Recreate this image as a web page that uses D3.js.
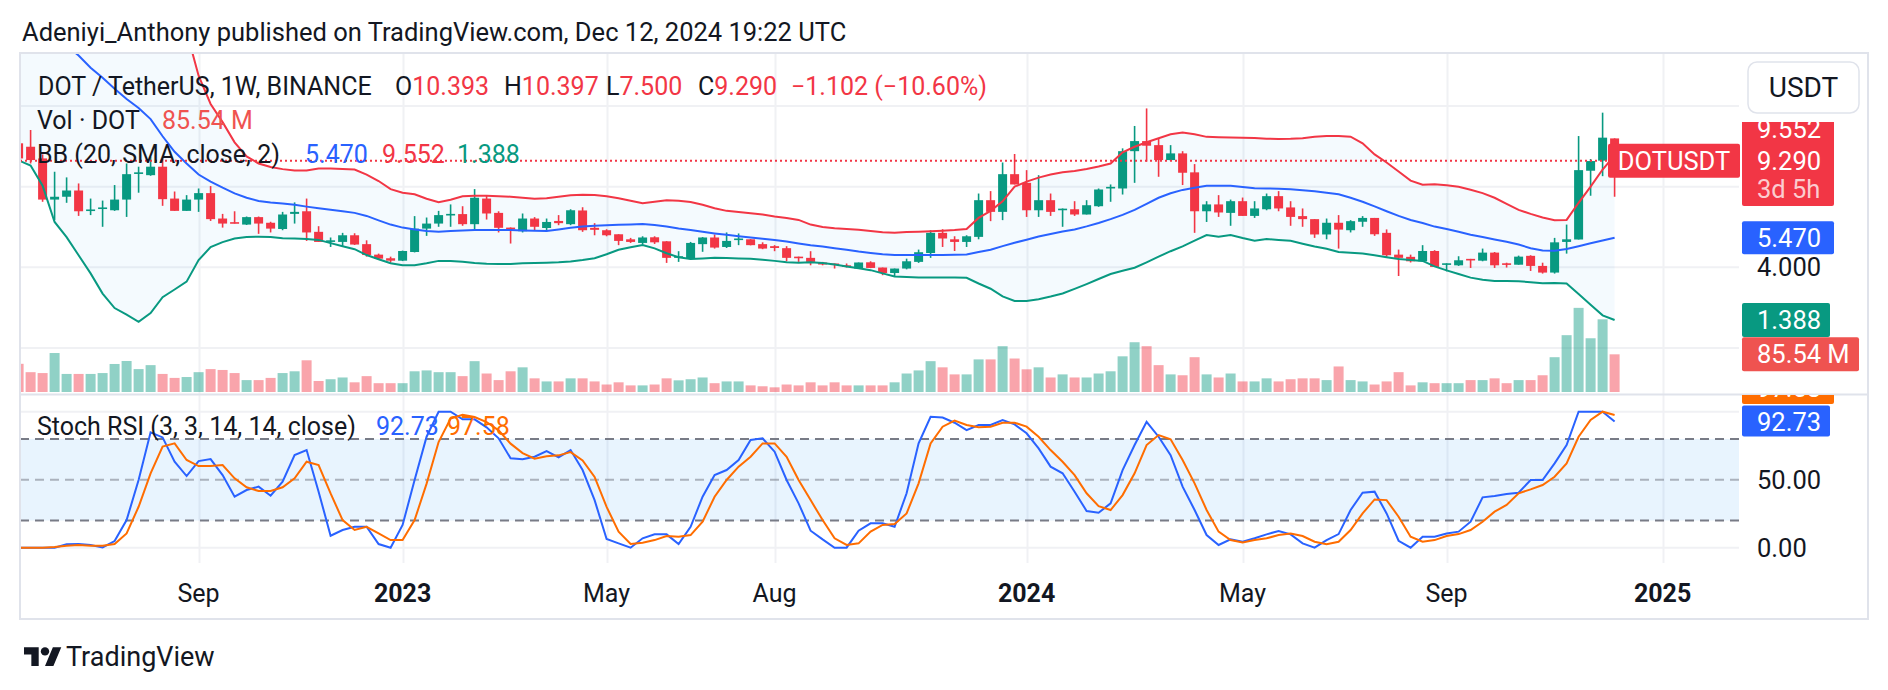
<!DOCTYPE html>
<html>
<head>
<meta charset="utf-8">
<script src="https://cdn.jsdelivr.net/npm/d3@7"></script>
<style>
  body { margin: 0; background: #ffffff; }
  svg text { font-family: Roboto, "Noto Sans", sans-serif; }
</style>
</head>
<body>
<div id="chart"></div>
<script>

// weekly bars, Monday 2022-05-23 .. Monday 2024-12-09
var opens = [10.15, 9.98, 9.40, 7.36, 7.50, 7.81, 6.80, 6.92, 6.83, 7.36, 8.64, 8.57, 8.99, 7.41, 6.80, 7.36, 7.68, 6.42, 6.24, 6.12, 6.49, 6.21, 5.90, 6.65, 6.78, 5.76, 5.26, 5.26, 5.59, 5.15, 4.63, 4.45,
    4.33, 4.76, 5.92, 6.17, 6.60, 6.64, 6.14, 7.41, 6.70, 5.97, 5.79, 6.42, 5.95, 6.30, 6.14, 6.82, 5.96, 5.84, 5.64, 5.39, 5.21, 5.49, 5.29, 4.50, 4.43, 5.15, 5.48, 5.01, 5.36, 5.39, 5.15, 5.05, 4.95, 4.53, 4.47, 4.24, 4.19, 4.10, 3.94, 4.25, 3.99, 3.72, 3.94, 4.27, 4.71, 5.71, 5.39, 5.26, 5.51, 7.33, 6.75, 8.62,
    8.19, 6.83, 7.33, 6.85, 6.88, 6.62, 7.03, 7.91, 7.91, 9.76, 10.26, 10.06, 9.32, 9.65, 8.71, 6.78, 7.12, 6.70, 7.28, 6.55, 6.88, 7.53, 6.97, 6.54, 6.39, 5.63, 6.21, 5.84, 6.26, 6.45, 5.71, 4.63, 4.52, 4.30, 4.81, 4.13, 4.10, 4.42, 4.33, 4.73, 4.20, 4.13, 4.57, 4.07, 3.74, 5.26, 5.38, 8.79, 9.29, 10.393];
var highs = [10.35, 10.81, 9.60, 8.74, 8.46, 8.16, 7.41, 7.31, 8.08, 9.15, 8.99, 9.48, 9.40, 7.76, 7.58, 7.91, 8.03, 6.65, 6.78, 6.52, 6.52, 6.26, 6.75, 7.22, 7.41, 6.04, 5.48, 5.71, 5.69, 5.34, 4.68, 4.53,
    4.83, 6.54, 6.47, 6.80, 7.12, 7.03, 7.88, 7.58, 6.78, 5.98, 6.67, 6.49, 6.42, 6.59, 6.88, 6.98, 6.19, 5.89, 5.64, 5.46, 5.54, 5.54, 5.30, 4.80, 5.26, 5.50, 5.63, 5.73, 5.68, 5.40, 5.24, 5.10, 5.05, 4.53, 4.80, 4.27, 4.19, 4.19, 4.24, 4.30, 3.99, 3.94, 4.43, 4.88, 5.84, 5.89, 5.54, 5.59, 7.66, 7.78, 9.20, 9.62,
    8.82, 8.57, 7.66, 6.92, 7.28, 7.33, 7.91, 8.11, 9.90, 11.01, 11.88, 10.39, 10.06, 9.76, 9.12, 7.28, 7.58, 7.36, 7.46, 7.28, 7.66, 7.78, 7.28, 6.92, 6.39, 6.42, 6.59, 6.34, 6.54, 6.45, 5.88, 4.88, 4.63, 5.10, 4.85, 4.20, 4.55, 4.42, 4.93, 4.76, 4.23, 4.58, 4.60, 4.23, 5.46, 6.12, 10.51, 9.37, 11.67, 10.397];
var lows = [9.30, 9.15, 7.25, 6.34, 7.20, 6.55, 6.59, 6.01, 6.80, 6.50, 7.70, 8.54, 7.05, 6.80, 6.80, 6.75, 6.30, 5.97, 6.17, 6.10, 5.66, 5.73, 5.84, 6.17, 5.31, 5.26, 5.01, 5.06, 5.11, 4.53, 4.37, 4.23,
    4.31, 4.74, 5.56, 6.01, 6.01, 6.06, 5.84, 6.37, 5.73, 5.18, 5.73, 5.84, 5.79, 6.09, 6.09, 5.76, 5.59, 5.54, 5.10, 5.21, 5.15, 5.16, 4.22, 4.27, 4.38, 4.77, 4.93, 4.96, 5.10, 5.09, 4.90, 4.80, 4.30, 4.27, 4.10, 4.10, 3.94, 3.99, 3.92, 3.96, 3.61, 3.52, 3.90, 4.22, 4.47, 5.01, 4.81, 5.01, 5.39, 6.29, 6.34, 8.11,
    6.50, 6.50, 6.55, 6.01, 6.55, 6.62, 7.00, 7.25, 7.61, 8.19, 9.24, 8.49, 9.29, 8.08, 5.71, 6.25, 6.50, 6.06, 6.55, 6.45, 6.83, 6.78, 6.06, 6.01, 5.46, 5.39, 4.93, 5.73, 6.01, 5.56, 4.52, 3.57, 4.24, 4.30, 4.02, 3.80, 4.07, 3.97, 4.30, 3.97, 3.99, 4.13, 3.82, 3.69, 3.69, 4.68, 5.38, 7.55, 8.52, 7.500];
var closes = [9.40, 9.32, 7.36, 7.50, 7.81, 6.78, 6.87, 6.97, 7.36, 8.62, 8.71, 8.99, 7.38, 6.80, 7.36, 7.68, 6.39, 6.17, 6.19, 6.49, 6.17, 5.92, 6.62, 6.75, 5.73, 5.26, 5.34, 5.59, 5.13, 4.61, 4.43, 4.33,
    4.81, 5.92, 6.17, 6.59, 6.65, 6.14, 7.45, 6.67, 5.96, 5.91, 6.42, 6.01, 6.25, 6.19, 6.83, 5.84, 5.86, 5.59, 5.31, 5.26, 5.48, 5.24, 4.47, 4.55, 5.21, 5.48, 4.98, 5.31, 5.43, 5.10, 4.93, 4.96, 4.47, 4.47, 4.27, 4.14, 4.12, 4.02, 4.24, 3.97, 3.72, 3.94, 4.30, 4.75, 5.71, 5.43, 5.26, 5.54, 7.33, 6.75, 8.62, 8.11,
    6.83, 7.33, 6.75, 6.91, 6.62, 7.08, 7.86, 7.99, 9.76, 10.26, 10.03, 9.32, 9.65, 8.69, 6.78, 7.12, 6.72, 7.28, 6.55, 6.92, 7.53, 6.92, 6.50, 6.39, 5.63, 6.21, 5.87, 6.29, 6.45, 5.64, 4.60, 4.47, 4.30, 4.81, 4.02, 4.20, 4.35, 4.35, 4.73, 4.10, 4.13, 4.53, 4.07, 3.74, 5.24, 5.39, 8.82, 9.27, 10.43, 9.290];
// volume, millions of DOT
var volumes = [64, 45, 43, 88.5, 41, 41, 41, 43, 63.6, 70.4, 52, 61, 41, 32, 34, 45, 52, 50, 43, 27, 27, 32, 43, 47, 72, 25, 29, 33, 22, 36, 20, 20,
    20, 47, 49, 45, 45, 36, 70, 42, 27, 47, 56, 31, 24, 24, 31, 31, 24, 17, 22, 15, 15, 17, 31, 26.5, 29, 33, 20, 24, 24, 15, 13, 10.6, 17, 15, 22, 15, 22, 15, 15, 15, 15, 22, 42, 49, 70, 56, 40, 40, 74, 74, 104, 76,
    51.5, 56, 33, 40, 33, 33, 42, 47, 81, 113, 104, 61, 40, 38, 79, 40, 33, 42, 24, 24, 31, 24, 29, 31, 31, 27, 58, 27, 24, 17, 24, 45, 15, 22, 20, 20, 20, 27, 27, 31, 20, 27, 27, 38, 79, 129, 191, 122, 165, 85.54];

// Bollinger Bands (20, SMA, close, 2)
var bbUpper = [25.1, 24.4, 24.3, 24.9, 24.5, 24.4, 24.1, 24.1, 23.7, 23.0, 22.5, 21.0, 18.5, 16.6, 15.7, 13.5, 12.1, 11.2, 10.2, 9.5, 9.15, 8.98, 8.87, 8.8, 8.8, 8.9, 8.9, 8.88, 8.85, 8.6, 8.28, 7.88,
    7.7, 7.62, 7.4, 7.23, 7.35, 7.52, 7.55, 7.55, 7.53, 7.5, 7.45, 7.4, 7.42, 7.5, 7.58, 7.6, 7.59, 7.52, 7.43, 7.3, 7.18, 7.25, 7.33, 7.3, 7.24, 7.1, 6.93, 6.8, 6.74, 6.68, 6.62, 6.52, 6.45, 6.35, 6.12, 6.0, 5.94, 5.9, 5.86, 5.8, 5.74, 5.72, 5.75, 5.77, 5.79, 5.82, 5.85, 5.9, 6.45, 6.8, 7.27, 8.0,
    8.25, 8.45, 8.6, 8.72, 8.78, 8.88, 9.0, 9.15, 9.7, 9.98, 10.2, 10.4, 10.6, 10.68, 10.6, 10.47, 10.45, 10.44, 10.43, 10.41, 10.38, 10.36, 10.37, 10.4, 10.48, 10.51, 10.51, 10.48, 10.15, 9.6, 9.2, 8.75, 8.3, 8.1, 8.12, 8.07, 8.0, 7.85, 7.68, 7.45, 7.15, 6.85, 6.65, 6.47, 6.34, 6.35, 7.2, 8.0, 8.85, 9.552];
var bbBasis = [17.2, 16.7, 16.2, 15.6, 15.0, 14.5, 13.9, 13.4, 12.85, 12.35, 11.9, 11.35, 10.5, 9.73, 9.15, 8.6, 8.25, 7.95, 7.67, 7.45, 7.29, 7.22, 7.17, 7.1, 7.01, 6.93, 6.86, 6.78, 6.7, 6.55, 6.33, 6.12,
    5.97, 5.88, 5.8, 5.77, 5.8, 5.83, 5.85, 5.85, 5.85, 5.85, 5.83, 5.82, 5.8, 5.88, 5.96, 6.03, 6.06, 6.09, 6.11, 6.13, 6.15, 6.1, 6.03, 5.93, 5.85, 5.76, 5.68, 5.61, 5.54, 5.48, 5.42, 5.36, 5.28, 5.18, 5.09, 5.03, 4.95, 4.87, 4.78, 4.71, 4.65, 4.61, 4.61, 4.61, 4.61, 4.61, 4.62, 4.64, 4.76, 4.87, 5.05, 5.22,
    5.37, 5.53, 5.65, 5.78, 5.88, 6.03, 6.2, 6.39, 6.6, 6.85, 7.15, 7.45, 7.67, 7.84, 7.95, 8.04, 8.05, 8.05, 7.98, 7.92, 7.91, 7.9, 7.87, 7.82, 7.77, 7.7, 7.62, 7.45, 7.25, 7.02, 6.78, 6.55, 6.35, 6.2, 6.02, 5.9, 5.76, 5.62, 5.5, 5.38, 5.27, 5.13, 4.95, 4.84, 4.82, 4.91, 5.05, 5.19, 5.33, 5.47];
var bbLower = [9.3, 9.05, 8.05, 6.25, 5.5, 4.6, 3.7, 2.7, 1.98, 1.65, 1.3, 1.73, 2.52, 2.9, 3.29, 4.36, 5.0, 5.25, 5.43, 5.5, 5.52, 5.5, 5.44, 5.43, 5.41, 5.36, 5.2, 5.05, 4.9, 4.61, 4.4, 4.2,
    4.1, 4.1, 4.2, 4.32, 4.32, 4.28, 4.22, 4.18, 4.16, 4.17, 4.2, 4.22, 4.23, 4.25, 4.29, 4.36, 4.45, 4.65, 4.87, 5.0, 5.11, 4.94, 4.7, 4.5, 4.41, 4.44, 4.47, 4.46, 4.44, 4.42, 4.38, 4.32, 4.25, 4.23, 4.25, 4.22, 4.14, 4.04, 3.95, 3.86, 3.7, 3.55, 3.52, 3.5, 3.5, 3.5, 3.49, 3.48, 3.2, 2.94, 2.56, 2.33,
    2.33, 2.42, 2.55, 2.7, 2.93, 3.17, 3.42, 3.67, 3.83, 3.98, 4.25, 4.53, 4.8, 5.04, 5.32, 5.6, 5.52, 5.6, 5.45, 5.32, 5.4, 5.36, 5.32, 5.17, 5.03, 4.92, 4.76, 4.72, 4.68, 4.6, 4.5, 4.41, 4.36, 4.32, 4.05, 3.85, 3.67, 3.49, 3.38, 3.32, 3.32, 3.31, 3.26, 3.21, 3.22, 3.2, 2.68, 2.15, 1.62, 1.388];

// Stoch RSI (3, 3, 14, 14, close)
var stochK = [0, 0, 0, 0, 2.5, 2.7, 2, 0.2, 4.9, 20.3, 49.8, 84.8, 81.1, 63.2, 52.7, 63.7, 65.2, 53.4, 37.5, 42.4, 44.9, 38.2, 48.5, 68.1, 71.8, 41.2, 8.8, 13, 15.4, 15.4, 2.7, 0,
    16.7, 49.8, 81.6, 100, 100, 94.4, 94.4, 88.5, 80.4, 65.7, 65, 66.9, 71.1, 66.4, 71.8, 57.1, 35, 6.4, 3.2, 0, 6.9, 9.8, 9.8, 2.7, 15.4, 37.5, 53.4, 57.1, 64.5, 79.2, 80.4, 70.6, 49.8, 32.6, 12.5, 6.1, 0, 0, 12.5, 17.9, 17.9, 15.4, 40, 76.7, 96.3, 95.7, 91.9, 86.5, 90.2, 90.2, 93.9, 90.7,
    84.1, 73, 59.6, 54.7, 41.2, 27, 25.7, 32.6, 57.1, 75.5, 92.6, 81.6, 68.1, 44.9, 27.7, 9.3, 2, 6.1, 4.4, 6.9, 9.8, 12.3, 9.8, 3.2, 0, 5.6, 10, 27.7, 40.4, 41.2, 25.2, 5.1, 0, 8.1, 8.1, 10.5, 11.8, 19.1, 37, 38, 39.5, 40.4, 49.8, 49.8, 62, 75.5, 100, 100, 100, 92.73];
var stochD = [0, 0, 0, 0.5, 1.5, 2, 1.5, 1.5, 2.7, 10.5, 30.1, 54.6, 74.3, 76.7, 64.5, 60, 60, 60.8, 51, 44.4, 41.7, 41.7, 44.4, 51, 63.2, 60.8, 39.9, 20.3, 13, 15.4, 10.5, 5.6,
    5.6, 20.3, 47.1, 77.7, 94.9, 97.8, 96.1, 92.4, 86.3, 76.5, 69.6, 65.4, 67.2, 67.9, 70.3, 64.2, 52, 30, 11.8, 2.7, 3.7, 5.6, 8.6, 8.1, 9.3, 19.1, 37.5, 49.8, 59.6, 66.9, 76.7, 76.7, 66.9, 49.8, 35, 20.3, 6.9, 2, 3.2, 11.8, 16.7, 17.4, 25.2, 47.3, 76.7, 89, 93.4, 90.2, 88.5, 89, 91.9, 91.9,
    89, 81.6, 71.8, 63.2, 53.4, 40, 30.6, 27.7, 38.7, 54.7, 75.5, 82.8, 79.7, 64.5, 47.3, 27.7, 11.8, 5.6, 3.9, 5.6, 6.9, 9.3, 10.5, 8.6, 4.4, 2.5, 4.4, 13, 25.2, 35.5, 35, 22.8, 8.1, 4.4, 5.6, 8.6, 10, 13, 19.1, 26.5, 31.4, 40, 42.9, 46.1, 52.2, 62, 81.6, 93.9, 100, 97.58];

var tickDates = ["2022-09-05", "2023-01-02", "2023-05-01", "2023-08-07", "2024-01-01", "2024-05-06", "2024-09-02", "2025-01-06"];
var tickLabels = ["Sep", "2023", "May", "Aug", "2024", "May", "Sep", "2025"];
var yearTicks = ["2023", "2024", "2025"];
var priceGrid = [0, 4, 8, 12];
var stochGrid = [0, 100];
var stochBands = [80, 20];

var upColor = "#089981", downColor = "#F23645";
var textColor = "#131722";

var parseDay = d3.utcParse("%Y-%m-%d");
var weeks = d3.utcMonday.range(parseDay("2022-05-23"), parseDay("2024-12-10"));
var bars = weeks.map(function (d, i) {
    return { date: d, o: opens[i], h: highs[i], l: lows[i], c: closes[i], v: volumes[i],
             up: bbUpper[i], mid: bbBasis[i], low: bbLower[i], k: stochK[i], dd: stochD[i] };
});

var width = 1888, height = 690;
var plotLeft = 20, plotRight = 1739, frameRight = 1868;
var mainTop = 53, mainBottom = 394, stochTop = 395, stochBottom = 563, frameBottom = 619;

var x = d3.scaleUtc()
    .domain([parseDay("2022-05-23"), parseDay("2025-01-06")])
    .range([18.6, 1662.6]);
var y = d3.scaleLinear().domain([0, 12]).range([348, 106]);
var yVol = d3.scaleLinear().domain([0, 200]).range([392, 303.9]);
var yStoch = d3.scaleLinear().domain([0, 100]).range([547.7, 411.7]);

var svg = d3.select("#chart")
    .append("svg")
    .attr("width", width)
    .attr("height", height)
    .style("display", "block");

var defs = svg.append("defs");
defs.append("clipPath").attr("id", "clipMain").append("rect")
    .attr("x", plotLeft).attr("y", mainTop).attr("width", plotRight - plotLeft).attr("height", mainBottom - mainTop);
defs.append("clipPath").attr("id", "clipStoch").append("rect")
    .attr("x", plotLeft).attr("y", stochTop).attr("width", plotRight - plotLeft).attr("height", stochBottom - stochTop);
defs.append("clipPath").attr("id", "clipTopLabel").append("rect")
    .attr("x", 1600).attr("y", 122).attr("width", 280).attr("height", 272);
defs.append("clipPath").attr("id", "clipStochAxis").append("rect")
    .attr("x", 1600).attr("y", stochTop).attr("width", 280).attr("height", 170);

// title
svg.append("text")
    .attr("x", 22).attr("y", 41)
    .attr("font-size", 25.5).attr("fill", textColor)
    .text("Adeniyi_Anthony published on TradingView.com, Dec 12, 2024 19:22 UTC");

// grid
var grid = svg.append("g");
grid.selectAll("line.h").data(priceGrid).enter().append("line")
    .attr("x1", plotLeft).attr("x2", plotRight)
    .attr("y1", function (d) { return y(d); }).attr("y2", function (d) { return y(d); })
    .attr("stroke", "#F0F1F4").attr("stroke-width", 2);
grid.selectAll("line.s").data(stochGrid).enter().append("line")
    .attr("x1", plotLeft).attr("x2", plotRight)
    .attr("y1", function (d) { return yStoch(d); }).attr("y2", function (d) { return yStoch(d); })
    .attr("stroke", "#F0F1F4").attr("stroke-width", 2);
tickDates.forEach(function (t) {
    var xx = Math.round(x(parseDay(t))) + 0.5;
    grid.append("line").attr("x1", xx).attr("x2", xx).attr("y1", mainTop).attr("y2", mainBottom)
        .attr("stroke", "#F0F1F4").attr("stroke-width", 2);
    grid.append("line").attr("x1", xx).attr("x2", xx).attr("y1", stochTop).attr("y2", stochBottom)
        .attr("stroke", "#F0F1F4").attr("stroke-width", 2);
});

// main pane
var main = svg.append("g").attr("clip-path", "url(#clipMain)");

var bbArea = d3.area()
    .x(function (d) { return x(d.date); })
    .y0(function (d) { return y(d.low); })
    .y1(function (d) { return y(d.up); });
main.append("path").datum(bars).attr("d", bbArea).attr("fill", "rgba(33,150,243,0.05)");

main.selectAll("rect.vol").data(bars).enter().append("rect")
    .attr("x", function (d) { return x(d.date) - 5; })
    .attr("width", 10)
    .attr("y", function (d) { return yVol(d.v); })
    .attr("height", function (d) { return yVol(0) - yVol(d.v); })
    .attr("fill", function (d) { return d.c >= d.o ? "rgba(8,153,129,0.45)" : "rgba(242,54,69,0.45)"; });

var candles = main.selectAll("g.candle").data(bars).enter().append("g");
candles.append("line")
    .attr("x1", function (d) { return x(d.date); })
    .attr("x2", function (d) { return x(d.date); })
    .attr("y1", function (d) { return y(d.h); })
    .attr("y2", function (d) { return y(d.l); })
    .attr("stroke", function (d) { return d.c >= d.o ? upColor : downColor; })
    .attr("stroke-width", 1.6);
candles.append("rect")
    .attr("x", function (d) { return x(d.date) - 4.5; })
    .attr("width", 9)
    .attr("y", function (d) { return y(Math.max(d.o, d.c)); })
    .attr("height", function (d) { return Math.max(1.6, Math.abs(y(d.o) - y(d.c))); })
    .attr("fill", function (d) { return d.c >= d.o ? upColor : downColor; });

var lineOf = function (key, scale) {
    return d3.line().x(function (d) { return x(d.date); }).y(function (d) { return scale(d[key]); });
};
main.append("path").datum(bars).attr("d", lineOf("up", y)).attr("fill", "none").attr("stroke", "#F23645").attr("stroke-width", 2);
main.append("path").datum(bars).attr("d", lineOf("low", y)).attr("fill", "none").attr("stroke", "#089981").attr("stroke-width", 2);
main.append("path").datum(bars).attr("d", lineOf("mid", y)).attr("fill", "none").attr("stroke", "#2962FF").attr("stroke-width", 2);

// last price line
var last = bars[bars.length - 1];
main.append("line")
    .attr("x1", plotLeft).attr("x2", plotRight)
    .attr("y1", y(last.c)).attr("y2", y(last.c))
    .attr("stroke", "#F23645").attr("stroke-width", 2).attr("stroke-dasharray", "2,3");

// stoch pane
var stoch = svg.append("g").attr("clip-path", "url(#clipStoch)");
stoch.append("rect")
    .attr("x", plotLeft).attr("width", plotRight - plotLeft)
    .attr("y", yStoch(stochBands[0])).attr("height", yStoch(stochBands[1]) - yStoch(stochBands[0]))
    .attr("fill", "rgba(33,150,243,0.1)");
stoch.selectAll("line.band").data(stochBands).enter().append("line")
    .attr("x1", plotLeft).attr("x2", plotRight)
    .attr("y1", function (d) { return yStoch(d); }).attr("y2", function (d) { return yStoch(d); })
    .attr("stroke", "#787B86").attr("stroke-width", 2).attr("stroke-dasharray", "9,6");
stoch.append("line")
    .attr("x1", plotLeft).attr("x2", plotRight)
    .attr("y1", yStoch(50)).attr("y2", yStoch(50))
    .attr("stroke", "rgba(120,123,134,0.55)").attr("stroke-width", 2).attr("stroke-dasharray", "9,6");
stoch.append("path").datum(bars).attr("d", lineOf("k", yStoch)).attr("fill", "none").attr("stroke", "#2962FF").attr("stroke-width", 2);
stoch.append("path").datum(bars).attr("d", lineOf("dd", yStoch)).attr("fill", "none").attr("stroke", "#FF6D00").attr("stroke-width", 2);

// frame and pane separator
svg.append("rect")
    .attr("x", plotLeft).attr("y", mainTop).attr("width", frameRight - plotLeft).attr("height", frameBottom - mainTop)
    .attr("fill", "none").attr("stroke", "#E0E3EB").attr("stroke-width", 2);
svg.append("line")
    .attr("x1", plotLeft).attr("x2", frameRight).attr("y1", mainBottom + 0.5).attr("y2", mainBottom + 0.5)
    .attr("stroke", "#E0E3EB").attr("stroke-width", 2);

// time axis
svg.selectAll("text.tick").data(tickDates).enter().append("text")
    .attr("x", function (d) { return x(parseDay(d)); })
    .attr("y", 602)
    .attr("text-anchor", "middle")
    .attr("font-size", 25)
    .attr("font-weight", function (d, i) { return yearTicks.indexOf(tickLabels[i]) >= 0 ? 700 : 400; })
    .attr("fill", textColor)
    .text(function (d, i) { return tickLabels[i]; });

// legends
var legend = svg.append("g").attr("font-size", 25).attr("fill", textColor);
var line1 = [
    { x: 38, parts: [["DOT / TetherUS, 1W, BINANCE", textColor]] },
    { x: 395, parts: [["O", textColor], [d3.format(".3f")(last.o), downColor]] },
    { x: 504, parts: [["H", textColor], [d3.format(".3f")(last.h), downColor]] },
    { x: 606, parts: [["L", textColor], [d3.format(".3f")(last.l), downColor]] },
    { x: 698, parts: [["C", textColor], [d3.format(".3f")(last.c), downColor]] },
    { x: 791, parts: [["\u22121.102 (\u221210.60%)", downColor]] }
];
line1.forEach(function (seg) {
    var t = legend.append("text").attr("x", seg.x).attr("y", 95);
    seg.parts.forEach(function (p) { t.append("tspan").attr("fill", p[1]).text(p[0]); });
});
legend.append("text").attr("x", 37).attr("y", 129).text("Vol \u00B7 DOT");
legend.append("text").attr("x", 162).attr("y", 129).attr("fill", "#EF5350").text("85.54 M");
legend.append("text").attr("x", 37).attr("y", 163).text("BB (20, SMA, close, 2)");
legend.append("text").attr("x", 305).attr("y", 163).attr("fill", "#2962FF").text(d3.format(".3f")(last.mid));
legend.append("text").attr("x", 382).attr("y", 163).attr("fill", "#F23645").text(d3.format(".3f")(last.up));
legend.append("text").attr("x", 457).attr("y", 163).attr("fill", "#089981").text(d3.format(".3f")(last.low));
legend.append("text").attr("x", 37).attr("y", 435).text("Stoch RSI (3, 3, 14, 14, close)");
legend.append("text").attr("x", 376).attr("y", 435).attr("fill", "#2962FF").text(d3.format(".2f")(last.k));
legend.append("text").attr("x", 447).attr("y", 435).attr("fill", "#FF6D00").text(d3.format(".2f")(last.dd));

// price axis
var axis = svg.append("g").attr("font-size", 25.5);
var labelX = 1742, textX = 1757;

axis.append("g").attr("clip-path", "url(#clipTopLabel)").call(function (g) {
    g.append("rect").attr("x", labelX).attr("y", 112).attr("width", 92).attr("height", 33).attr("rx", 2).attr("fill", "#F23645");
    g.append("text").attr("x", textX).attr("y", 137.5).attr("fill", "#fff").text(d3.format(".3f")(last.up));
});
axis.append("rect").attr("x", labelX).attr("y", 139).attr("width", 92).attr("height", 67).attr("rx", 2).attr("fill", "#F23645");
axis.append("text").attr("x", textX).attr("y", y(last.c) + 9).attr("fill", "#fff").text(d3.format(".3f")(last.c));
axis.append("text").attr("x", textX).attr("y", 198).attr("fill", "rgba(255,255,255,0.75)").text("3d 5h");
axis.append("rect").attr("x", 1608).attr("y", y(last.c) - 17).attr("width", 132).attr("height", 34).attr("rx", 2).attr("fill", "#F23645");
axis.append("text").attr("x", 1674).attr("y", y(last.c) + 9).attr("text-anchor", "middle").attr("fill", "#fff").text("DOTUSDT");

axis.append("rect").attr("x", labelX).attr("y", y(last.mid) - 16.5).attr("width", 92).attr("height", 33).attr("rx", 2).attr("fill", "#2962FF");
axis.append("text").attr("x", textX).attr("y", y(last.mid) + 9).attr("fill", "#fff").text(d3.format(".3f")(last.mid));
axis.append("text").attr("x", textX).attr("y", y(4) + 9).attr("fill", textColor).text(d3.format(".3f")(4));
axis.append("rect").attr("x", labelX).attr("y", y(last.low) - 17).attr("width", 88).attr("height", 34).attr("rx", 2).attr("fill", "#089981");
axis.append("text").attr("x", textX).attr("y", y(last.low) + 9).attr("fill", "#fff").text(d3.format(".3f")(last.low));
axis.append("rect").attr("x", labelX).attr("y", yVol(last.v) - 17).attr("width", 117).attr("height", 34).attr("rx", 2).attr("fill", "#EF5350");
axis.append("text").attr("x", textX).attr("y", yVol(last.v) + 9).attr("fill", "#fff").text("85.54 M");

axis.append("g").attr("clip-path", "url(#clipStochAxis)").call(function (g) {
    g.append("rect").attr("x", labelX).attr("y", 371).attr("width", 92).attr("height", 33).attr("rx", 2).attr("fill", "#FF6D00");
    g.append("text").attr("x", textX).attr("y", 397).attr("fill", "#fff").text(d3.format(".2f")(last.dd));
});
axis.append("rect").attr("x", labelX).attr("y", yStoch(last.k) - 16).attr("width", 88).attr("height", 31).attr("rx", 2).attr("fill", "#2962FF");
axis.append("text").attr("x", textX).attr("y", yStoch(last.k) + 9).attr("fill", "#fff").text(d3.format(".2f")(last.k));
axis.append("text").attr("x", textX).attr("y", yStoch(50) + 9).attr("fill", textColor).text(d3.format(".2f")(50));
axis.append("text").attr("x", textX).attr("y", yStoch(0) + 9).attr("fill", textColor).text(d3.format(".2f")(0));

// currency button
svg.append("rect").attr("x", 1748).attr("y", 62).attr("width", 111).attr("height", 51).attr("rx", 9)
    .attr("fill", "#fff").attr("stroke", "#E0E3EB").attr("stroke-width", 1.5);
svg.append("text").attr("x", 1803.5).attr("y", 97).attr("text-anchor", "middle")
    .attr("font-size", 28).attr("fill", textColor).text("USDT");

// footer logo
var logo = svg.append("g").attr("transform", "translate(24,643) scale(1.05)").attr("fill", textColor);
logo.append("path").attr("d", "M14 22H7V11H0V4h14v18zM28 22h-8l7.5-18h8L28 22z");
logo.append("circle").attr("cx", 20).attr("cy", 8).attr("r", 4);
svg.append("text").attr("x", 66).attr("y", 666).attr("font-size", 27).attr("fill", textColor).text("TradingView");

</script>
</body>
</html>
